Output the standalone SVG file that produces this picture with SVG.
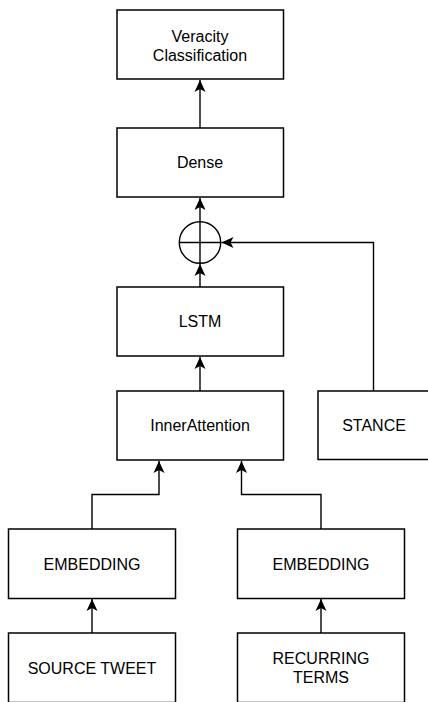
<svg xmlns="http://www.w3.org/2000/svg" width="428" height="702" viewBox="0 0 428 702">
<style>
.box{fill:#fff;stroke:#000;stroke-width:1.5}
.lbl{font-family:"Liberation Sans",Arial,sans-serif;font-size:16px;fill:#000;text-anchor:middle}
.edge{fill:none;stroke:#000;stroke-width:1.4}
</style>
<defs>
<marker id="arr" markerUnits="userSpaceOnUse" markerWidth="14" markerHeight="14" viewBox="0 -7 13 14" refX="12" refY="0" orient="auto">
<path d="M12,0 L0,-5.5 L3,0 L0,5.5 Z" fill="#000"/>
</marker>
</defs>
<rect width="428" height="702" fill="#fff"/>
<g id="connectors">
<path class="edge" d="M200,128 V80" marker-end="url(#arr)"/>
<path class="edge" d="M200,221.5 V198" marker-end="url(#arr)"/>
<path class="edge" d="M200,287 V264" marker-end="url(#arr)"/>
<path class="edge" d="M200,391 V357" marker-end="url(#arr)"/>
<path class="edge" d="M373.5,391 V242.5 H221.5" marker-end="url(#arr)"/>
<path class="edge" d="M92,529 V494.5 H159 V461" marker-end="url(#arr)"/>
<path class="edge" d="M321,529 V494.5 H241.5 V461" marker-end="url(#arr)"/>
<path class="edge" d="M92,633 V599" marker-end="url(#arr)"/>
<path class="edge" d="M321,633 V599" marker-end="url(#arr)"/>
</g>
<g id="veracity">
<rect class="box" x="117" y="10" width="166.5" height="69"/>
<text class="lbl" x="200" y="41.5">Veracity</text>
<text class="lbl" x="200" y="61">Classification</text>
</g>
<g id="dense">
<rect class="box" x="117" y="128" width="166.5" height="69"/>
<text class="lbl" x="200" y="168">Dense</text>
</g>
<g id="sum">
<circle cx="200" cy="242.5" r="20.7" fill="#fff" stroke="#000" stroke-width="1.4"/>
<path d="M179.3,242.5 H220.7 M200,221.8 V263.2" stroke="#000" stroke-width="1.4"/>
</g>
<g id="lstm">
<rect class="box" x="117" y="287" width="166.5" height="69"/>
<text class="lbl" x="200" y="327">LSTM</text>
</g>
<g id="innerattention">
<rect class="box" x="117" y="391" width="166.5" height="69"/>
<text class="lbl" x="200" y="431">InnerAttention</text>
</g>
<g id="stance">
<rect class="box" x="318" y="391" width="112" height="68.5"/>
<text class="lbl" x="374" y="431">STANCE</text>
</g>
<g id="embedding-left">
<rect class="box" x="8.5" y="529" width="167" height="69.5"/>
<text class="lbl" x="92" y="569.5">EMBEDDING</text>
</g>
<g id="embedding-right">
<rect class="box" x="237.5" y="529" width="167" height="69.5"/>
<text class="lbl" x="321" y="569.5">EMBEDDING</text>
</g>
<g id="source-tweet">
<rect class="box" x="8.5" y="633" width="167" height="69.5"/>
<text class="lbl" x="92" y="673.5">SOURCE TWEET</text>
</g>
<g id="recurring-terms">
<rect class="box" x="237.5" y="633" width="167" height="69.5"/>
<text class="lbl" x="321" y="664">RECURRING</text>
<text class="lbl" x="321" y="683">TERMS</text>
</g>
</svg>
